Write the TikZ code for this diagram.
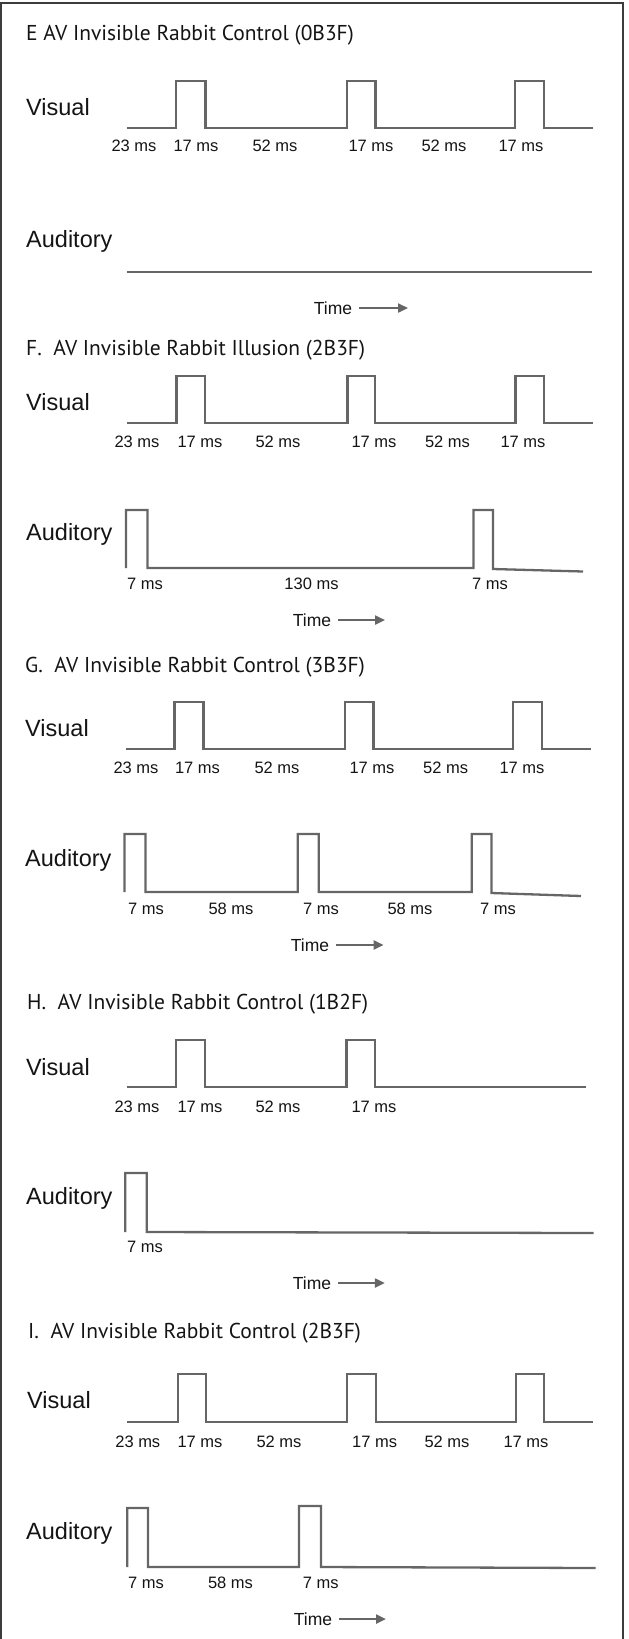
\documentclass[tikz,border=0pt]{standalone}
\usepackage{fontspec}
\setmainfont{Liberation Sans}
\newfontfamily\titlefont{PT Sans}
\usetikzlibrary{arrows.meta}
\definecolor{wavegray}{HTML}{666666}
\definecolor{framegray}{HTML}{3C3C3C}
\definecolor{inkblack}{HTML}{141414}
\begin{document}
\begin{tikzpicture}[x=1pt, y=-1pt,
    wave/.style={draw=wavegray, line width=2.3pt, line join=miter},
    paneltitle/.style={anchor=west, inner sep=0pt, text=inkblack, font=\titlefont\fontsize{21.5}{21.5}\selectfont},
    channel/.style={anchor=west, inner sep=0pt, text=inkblack, font=\fontsize{23.5}{23.5}\selectfont},
    dur/.style={inner sep=0pt, text=inkblack, font=\fontsize{16.5}{16.5}\selectfont},
    timelbl/.style={inner sep=0pt, text=inkblack, font=\fontsize{17.5}{17.5}\selectfont},
    timearrow/.style={draw=wavegray, line width=2.3pt, shorten <=7pt, -{Triangle[length=10pt,width=9pt]}}]
  \useasboundingbox (0,0) rectangle (629,1639);
  \draw[framegray, line width=2pt] (1,1639) -- (1,3) -- (623,3) -- (623,1639);

  % E
  \node[paneltitle] (titleE) at (26,35) {E AV Invisible Rabbit Control (0B3F)};
  \node[channel] (visE) at (26,107) {Visual};
  \node[channel] (audE) at (26,241) {Auditory};
  \draw[wave] (127,128) -- (176,128) -- (176,81) -- (205.5,81) -- (205.5,128) -- (347,128) -- (347,81) -- (375.5,81) -- (375.5,128)
    -- (515,128) -- (515,81) -- (544,81) -- (544,128) -- (593,128);
  \draw[wave] (127,272) -- (592,272);
  \node[dur] (e1) at (134,146) {23 ms};
  \node[dur] (e2) at (196,146) {17 ms};
  \node[dur] (e3) at (275,146) {52 ms};
  \node[dur] (e4) at (371,146) {17 ms};
  \node[dur] (e5) at (444,146) {52 ms};
  \node[dur] (e6) at (521,146) {17 ms};
  \node[timelbl] (timeE) at (333,308) {Time};
  \coordinate (tipE) at (408,308);
  \draw[timearrow] (timeE.east) -- (tipE);

  % F
  \node[paneltitle] (titleF) at (26,350) {F.\ \ AV Invisible Rabbit Illusion (2B3F)};
  \node[channel] (visF) at (26,402) {Visual};
  \node[channel] (audF) at (26,534) {Auditory};
  \draw[wave] (127,423) -- (176.6,423) -- (176.6,376) -- (205,376) -- (205,423) -- (347.5,423) -- (347.5,376) -- (375,376) -- (375,423)
    -- (515.5,423) -- (515.5,376) -- (544,376) -- (544,423) -- (593,423);
  \draw[wave] (126,568) -- (126,510) -- (147.5,510) -- (147.5,568) -- (473.5,568) -- (473.5,510) -- (493,510) -- (493,569) -- (583,571.5);
  \node[dur] (f1) at (137,442) {23 ms};
  \node[dur] (f2) at (200,442) {17 ms};
  \node[dur] (f3) at (278,442) {52 ms};
  \node[dur] (f4) at (374,442) {17 ms};
  \node[dur] (f5) at (447.5,442) {52 ms};
  \node[dur] (f6) at (523,442) {17 ms};
  \node[dur] (f7) at (145,584) {7 ms};
  \node[dur] (f8) at (311.5,584) {130 ms};
  \node[dur] (f9) at (490,584) {7 ms};
  \node[timelbl] (timeF) at (312,620) {Time};
  \coordinate (tipF) at (385,620);
  \draw[timearrow] (timeF.east) -- (tipF);

  % G
  \node[paneltitle] (titleG) at (25,667) {G.\ \ AV Invisible Rabbit Control (3B3F)};
  \node[channel] (visG) at (25,728) {Visual};
  \node[channel] (audG) at (25,860) {Auditory};
  \draw[wave] (125.7,749) -- (174.5,749) -- (174.5,702) -- (203.5,702) -- (203.5,749) -- (345,749) -- (345,702) -- (373.5,702) -- (373.5,749)
    -- (513,749) -- (513,702) -- (542,702) -- (542,749) -- (590.6,749);
  \draw[wave] (124.5,892) -- (124.5,834) -- (145.5,834) -- (145.5,892) -- (297.7,892) -- (297.7,834) -- (318.7,834) -- (318.7,892)
    -- (471.8,892) -- (471.8,834) -- (491.5,834) -- (491.5,893) -- (581,896);
  \node[dur] (g1) at (136,768) {23 ms};
  \node[dur] (g2) at (197.5,768) {17 ms};
  \node[dur] (g3) at (277,768) {52 ms};
  \node[dur] (g4) at (372,768) {17 ms};
  \node[dur] (g5) at (445.6,768) {52 ms};
  \node[dur] (g6) at (522,768) {17 ms};
  \node[dur] (g7) at (146,909) {7 ms};
  \node[dur] (g8) at (231,909) {58 ms};
  \node[dur] (g9) at (321,909) {7 ms};
  \node[dur] (g10) at (410,909) {58 ms};
  \node[dur] (g11) at (498,909) {7 ms};
  \node[timelbl] (timeG) at (310,945) {Time};
  \coordinate (tipG) at (383.6,945);
  \draw[timearrow] (timeG.east) -- (tipG);

  % H
  \node[paneltitle] (titleH) at (27,1004) {H.\ \ AV Invisible Rabbit Control (1B2F)};
  \node[channel] (visH) at (26,1067) {Visual};
  \node[channel] (audH) at (26,1198) {Auditory};
  \draw[wave] (126.5,1087) -- (176,1087) -- (176,1040) -- (204.7,1040) -- (204.7,1087) -- (346.5,1087) -- (346.5,1040) -- (374.7,1040)
    -- (374.7,1087) -- (586,1087);
  \draw[wave] (125.3,1232) -- (125.3,1173) -- (146.7,1173) -- (146.7,1232) -- (593.5,1233);
  \node[dur] (h1) at (137,1107) {23 ms};
  \node[dur] (h2) at (200,1107) {17 ms};
  \node[dur] (h3) at (278,1107) {52 ms};
  \node[dur] (h4) at (374,1107) {17 ms};
  \node[dur] (h5) at (145,1247) {7 ms};
  \node[timelbl] (timeH) at (312,1283) {Time};
  \coordinate (tipH) at (384.8,1283);
  \draw[timearrow] (timeH.east) -- (tipH);

  % I
  \node[paneltitle] (titleI) at (28,1333) {I.\ \ AV Invisible Rabbit Control (2B3F)};
  \node[channel] (visI) at (27,1400) {Visual};
  \node[channel] (audI) at (26,1533) {Auditory};
  \draw[wave] (127.3,1422) -- (177.7,1422) -- (177.7,1374) -- (205.9,1374) -- (205.9,1422) -- (347.3,1422) -- (347.3,1374) -- (376,1374)
    -- (376,1422) -- (515.7,1422) -- (515.7,1374) -- (544.3,1374) -- (544.3,1422) -- (593,1422);
  \draw[wave] (127.3,1567) -- (127.3,1508) -- (147.9,1508) -- (147.9,1567) -- (299,1567) -- (299,1506) -- (321,1506) -- (321,1567) -- (595.5,1568);
  \node[dur] (i1) at (137.8,1442) {23 ms};
  \node[dur] (i2) at (200,1442) {17 ms};
  \node[dur] (i3) at (279,1442) {52 ms};
  \node[dur] (i4) at (374.7,1442) {17 ms};
  \node[dur] (i5) at (447,1442) {52 ms};
  \node[dur] (i6) at (526,1442) {17 ms};
  \node[dur] (i7) at (146,1583) {7 ms};
  \node[dur] (i8) at (230.5,1583) {58 ms};
  \node[dur] (i9) at (320.7,1583) {7 ms};
  \node[timelbl] (timeI) at (313,1619) {Time};
  \coordinate (tipI) at (386,1619);
  \draw[timearrow] (timeI.east) -- (tipI);
\end{tikzpicture}
\end{document}
